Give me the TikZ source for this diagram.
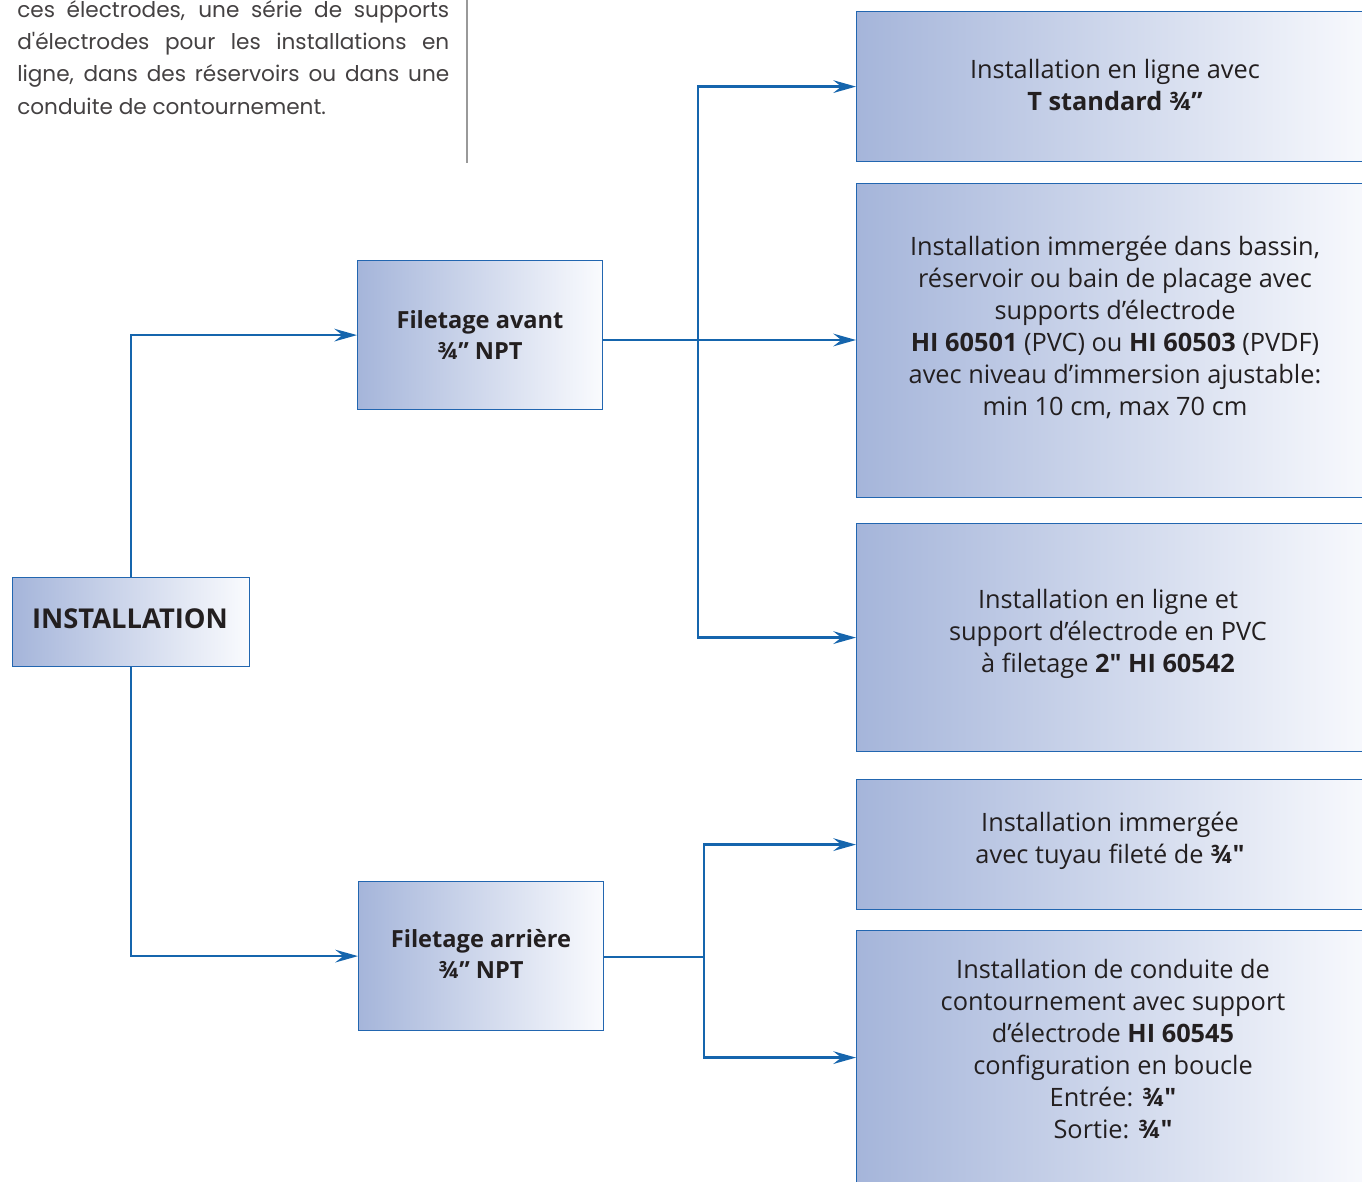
\documentclass[tikz,border=0pt]{standalone}
\usepackage{fontspec}
\setmainfont{Open Sans}[Ligatures=TeXOff]
\newfontfamily\parfont{Poppins}
\usetikzlibrary{arrows.meta}
\definecolor{lineblue}{HTML}{1565AD}
\definecolor{boxblue}{HTML}{2266B0}
\definecolor{gleft}{HTML}{A5B5DA}
\definecolor{gright}{HTML}{FAFBFE}
\definecolor{txt}{HTML}{231F20}
\newcommand{\sq}{\symbol{34}}
\tikzset{
  box/.style={draw=boxblue, line width=0.9pt, left color=gleft, right color=gright, inner sep=0pt, anchor=north west},
  boxtext/.style={align=center, text=txt, font=\fontsize{19}{24}\selectfont, inner sep=0pt},
  conn/.style={draw=lineblue, line width=1.8pt, -{Stealth[length=17pt,width=9.5pt,inset=6pt]}},
  plain/.style={draw=lineblue, line width=1.8pt},
  partext/.style={anchor=base west, inner sep=0pt, text=txt!85, font=\parfont\fontsize{16.2}{24}\selectfont}
}
\begin{document}
\begin{tikzpicture}[x=0.75pt,y=-0.75pt]
\clip (0,0) rectangle (1362,1181);
\useasboundingbox (0,0) rectangle (1362,1181);
\fill[white] (0,0) rectangle (1362,1181);

% top paragraph
\node[partext] (p1) at (17,18) {\makebox[324pt][s]{ces électrodes, une série de supports}};
\node[partext] (p2) at (17,50) {\makebox[324pt][s]{d'électrodes pour les installations en}};
\node[partext] (p3) at (17,82) {\makebox[324pt][s]{ligne, dans des réservoirs ou dans une}};
\node[partext] (p4) at (17,114) {conduite de contournement.};
\draw[gray!80, line width=0.8pt] (467,0) coordinate (vl1) -- (467,163) coordinate (vl2);

% left boxes
\node[box, minimum width=237*0.75pt, minimum height=89*0.75pt] (inst) at (12,577) {};
\node[text=txt, inner sep=0pt, font=\fontsize{20.5}{24}\selectfont\bfseries] (instt) at (130,619) {INSTALLATION};
\node[box, minimum width=245*0.75pt, minimum height=149*0.75pt] (avant) at (357,260) {};
\node[boxtext, font=\fontsize{17.7}{23.5}\selectfont\bfseries] (avantt) at (480,335) {Filetage avant\\¾” NPT};
\node[box, minimum width=245*0.75pt, minimum height=149*0.75pt] (arriere) at (358,881) {};
\node[boxtext, font=\fontsize{17.7}{23.5}\selectfont\bfseries] (arrieret) at (481,954) {Filetage arrière\\¾” NPT};

% right boxes
\node[box, minimum width=524*0.75pt, minimum height=150*0.75pt] (b1) at (856,11) {};
\node[box, minimum width=524*0.75pt, minimum height=314*0.75pt] (b2) at (856,183) {};
\node[box, minimum width=524*0.75pt, minimum height=228*0.75pt] (b3) at (856,523) {};
\node[box, minimum width=524*0.75pt, minimum height=130*0.75pt] (b4) at (856,779) {};
\node[box, minimum width=524*0.75pt, minimum height=254*0.75pt] (b5) at (856,930) {};

\node[boxtext] (t1) at (1115,85) {Installation en ligne avec\\\textbf{T standard ¾”}};
\node[boxtext] (t2) at (1115,327) {Installation immergée dans bassin,\\réservoir ou bain de placage avec\\supports d’électrode\\\textbf{HI 60501} (PVC) ou \textbf{HI 60503} (PVDF)\\avec niveau d’immersion ajustable:\\min 10 cm, max 70 cm};
\node[boxtext] (t3) at (1108,634) {Installation en ligne et\\support d’électrode en PVC\\à filetage \textbf{2\sq{} HI 60542}};
\node[boxtext] (t4) at (1110,841) {Installation immergée\\avec tuyau fileté de \textbf{¾\sq}};
\node[boxtext] (t5) at (1113,1049) {Installation de conduite de\\contournement avec support\\d’électrode \textbf{HI 60545}\\configuration en boucle\\Entrée: \textbf{¾\sq}\\Sortie: \textbf{¾\sq}};

% connectors
\coordinate (j1) at (698,340);
\coordinate (j2) at (704,957);
\draw[conn] (inst.north) |- (avant.west);
\draw[conn] (inst.south) |- (arriere.west);
\draw[conn] (j1 -| avant.east) -- (j1 -| b2.west);
\draw[conn] (j1) |- (b1.west);
\draw[conn] (j1) |- (b3.west);
\draw[plain] (j2 -| arriere.east) -- (j2);
\draw[conn] (j2) |- (b4.west);
\draw[conn] (j2) |- (b5.west);
\end{tikzpicture}
\end{document}
